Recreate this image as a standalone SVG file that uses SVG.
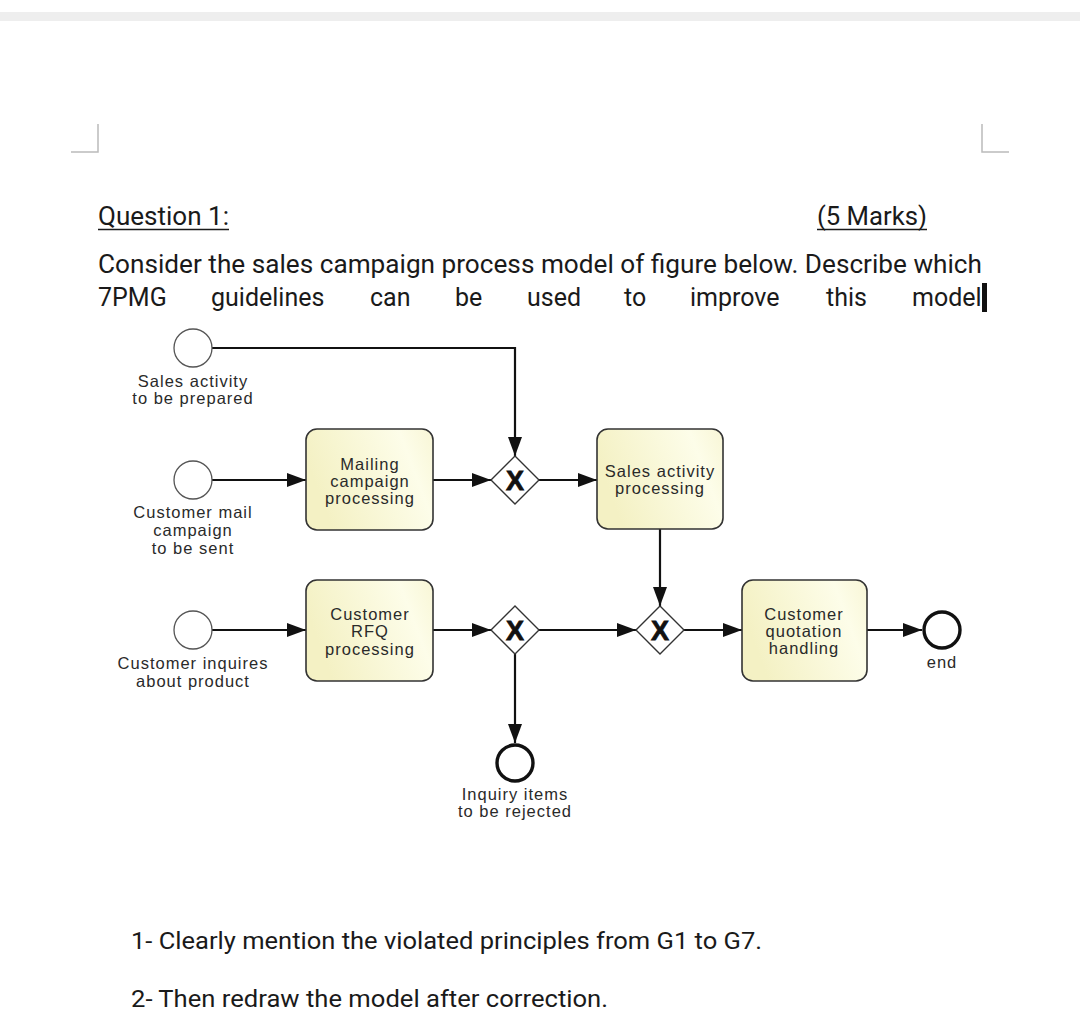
<svg xmlns="http://www.w3.org/2000/svg" width="1080" height="1023" viewBox="0 0 1080 1023">
<defs>
<style>
.doc{font-family:Roboto,"Liberation Sans",sans-serif;fill:#1a1a1a}
.lbl{font-family:"Liberation Sans",Arial,sans-serif;font-size:16.5px;letter-spacing:1px;fill:#2a2a2a;text-anchor:middle}
.task{stroke:#333;stroke-width:1.6;fill:url(#tg)}
.start{fill:#fff;stroke:#555;stroke-width:1.3}
.end{fill:#fff;stroke:#111;stroke-width:3.4}
.gw{fill:#fff;stroke:#333;stroke-width:1.4}
.gx{font-family:"Liberation Sans",Arial,sans-serif;font-weight:bold;font-size:27px;fill:#111;stroke:#111;stroke-width:0.8;text-anchor:middle}
.flow{fill:none;stroke:#111;stroke-width:2.2;marker-end:url(#ah)}
.ul{stroke:#1a1a1a;stroke-width:1.6}
.corner{fill:none;stroke:#bbb;stroke-width:1.5}
</style>
<linearGradient id="tg" x1="0" y1="0.3" x2="1" y2="0">
<stop offset="0" stop-color="#f4f1c4"/>
<stop offset="0.75" stop-color="#fdfde9"/>
<stop offset="1" stop-color="#f8f6d6"/>
</linearGradient>
<marker id="ah" markerUnits="userSpaceOnUse" markerWidth="20" markerHeight="16" refX="19" refY="7" orient="auto">
<path d="M0,0 L19,7 L0,14 z" fill="#111"/>
</marker>
</defs>
<rect width="1080" height="1023" fill="#fff"/>
<rect x="0" y="12" width="1080" height="9" fill="#eeeeee"/>
<path class="corner" d="M71,152 H98 V124"/>
<path class="corner" d="M982,124 V152 H1009"/>

<g id="header">
<text class="doc" x="98" y="225" font-size="25" textLength="131" lengthAdjust="spacingAndGlyphs">Question 1:</text>
<line class="ul" x1="98" y1="229.5" x2="229" y2="229.5"/>
<text class="doc" x="817" y="225" font-size="25" textLength="110" lengthAdjust="spacingAndGlyphs">(5 Marks)</text>
<line class="ul" x1="817" y1="229.5" x2="927" y2="229.5"/>
<text class="doc" x="98" y="273" font-size="25" textLength="884" lengthAdjust="spacingAndGlyphs">Consider the sales campaign process model of figure below. Describe which</text>
<text class="doc" font-size="25" y="306"><tspan x="98">7PMG</tspan><tspan x="211">guidelines</tspan><tspan x="370">can</tspan><tspan x="455">be</tspan><tspan x="527">used</tspan><tspan x="624">to</tspan><tspan x="690">improve</tspan><tspan x="826">this</tspan><tspan x="912">model</tspan></text>
<rect x="982" y="283" width="5" height="29" fill="#111"/>
</g>

<g id="connectors">
<path class="flow" d="M212,348 H515 V456"/>
<path class="flow" d="M212,480 H306"/>
<path class="flow" d="M433,480 H491"/>
<path class="flow" d="M539,480 H597"/>
<path class="flow" d="M660,529 V606"/>
<path class="flow" d="M212,630 H306"/>
<path class="flow" d="M433,630 H491"/>
<path class="flow" d="M539,630 H636"/>
<path class="flow" d="M684,630 H742"/>
<path class="flow" d="M515,654 V743"/>
<path class="flow" d="M867,630 H922"/>
</g>

<g id="start-sales">
<circle class="start" cx="193" cy="348" r="19"/>
<text class="lbl" x="193" y="387">Sales activity</text>
<text class="lbl" x="193" y="404">to be prepared</text>
</g>
<g id="start-mail">
<circle class="start" cx="193" cy="480" r="19"/>
<text class="lbl" x="193" y="518">Customer mail</text>
<text class="lbl" x="193" y="536">campaign</text>
<text class="lbl" x="193" y="554">to be sent</text>
</g>
<g id="start-inquiry">
<circle class="start" cx="193" cy="630" r="19"/>
<text class="lbl" x="193" y="669">Customer inquires</text>
<text class="lbl" x="193" y="687">about product</text>
</g>

<g id="task-mailing">
<rect class="task" x="306" y="429" width="127" height="101" rx="11"/>
<text class="lbl" x="370" y="470">Mailing</text>
<text class="lbl" x="370" y="487">campaign</text>
<text class="lbl" x="370" y="504">processing</text>
</g>
<g id="task-sales">
<rect class="task" x="597" y="429" width="126" height="100" rx="11"/>
<text class="lbl" x="660" y="477">Sales activity</text>
<text class="lbl" x="660" y="494">processing</text>
</g>
<g id="task-rfq">
<rect class="task" x="306" y="580" width="127" height="101" rx="11"/>
<text class="lbl" x="370" y="620">Customer</text>
<text class="lbl" x="370" y="637">RFQ</text>
<text class="lbl" x="370" y="655">processing</text>
</g>
<g id="task-quotation">
<rect class="task" x="742" y="580" width="125" height="101" rx="11"/>
<text class="lbl" x="804" y="620">Customer</text>
<text class="lbl" x="804" y="637">quotation</text>
<text class="lbl" x="804" y="654">handling</text>
</g>

<g id="gateway-1">
<path class="gw" d="M515,456 L539,480 L515,504 L491,480 z"/>
<text class="gx" x="515" y="490">X</text>
</g>
<g id="gateway-2">
<path class="gw" d="M515,606 L539,630 L515,654 L491,630 z"/>
<text class="gx" x="515" y="640">X</text>
</g>
<g id="gateway-3">
<path class="gw" d="M660,606 L684,630 L660,654 L636,630 z"/>
<text class="gx" x="660" y="640">X</text>
</g>

<g id="end-rejected">
<circle class="end" cx="515" cy="763" r="18"/>
<text class="lbl" x="515" y="800">Inquiry items</text>
<text class="lbl" x="515" y="817">to be rejected</text>
</g>
<g id="end">
<circle class="end" cx="942" cy="630" r="18"/>
<text class="lbl" x="942" y="668">end</text>
</g>

<g id="footer">
<text class="doc" x="131" y="949" font-size="24" textLength="631" lengthAdjust="spacingAndGlyphs">1- Clearly mention the violated principles from G1 to G7.</text>
<text class="doc" x="131" y="1007" font-size="24" textLength="477" lengthAdjust="spacingAndGlyphs">2- Then redraw the model after correction.</text>
</g>
</svg>
